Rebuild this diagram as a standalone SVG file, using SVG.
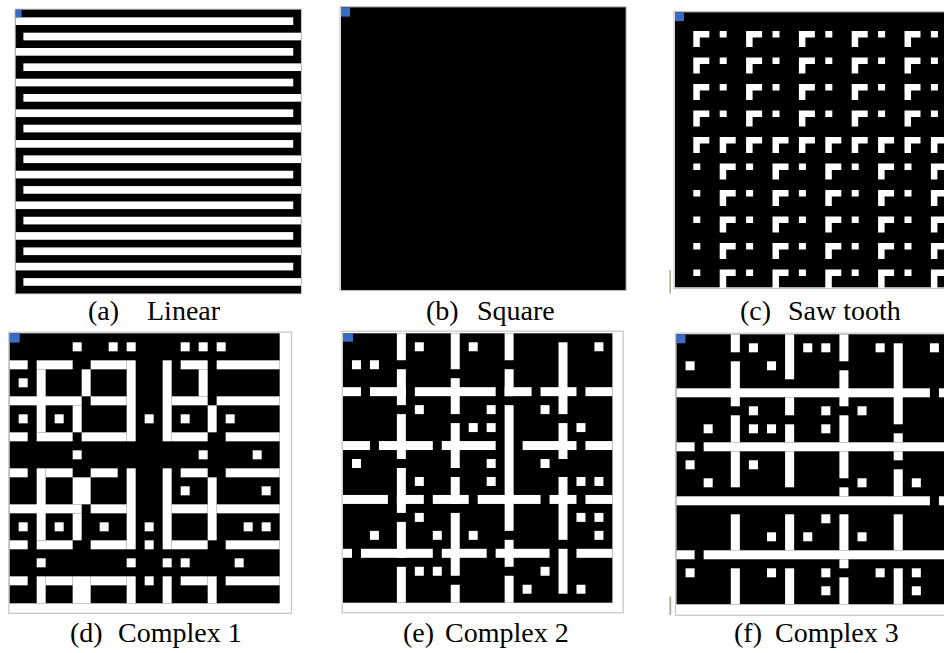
<svg xmlns="http://www.w3.org/2000/svg" width="944" height="653" viewBox="0 0 944 653">
<style>
.k{fill:#000}
.w{fill:#fff}
.bl{fill:#3a6bc5}
.fr{fill:none;stroke:#c4c4c4;stroke-width:1.2}
.ol{fill:#b0ad94}
.lbl{font-family:"Liberation Serif","Times New Roman",serif;font-size:28px;fill:#000}
</style>
<defs>
<path id="G" d="M0,0h16v6.5h-9.5v9.5h-6.5z" fill="#fff"/>
<path id="GL" d="M0,0h16v6.5h-9.5v12h-6.5z" fill="#fff"/>
<rect id="S" width="7" height="6.5" fill="#fff"/>
<g id="rowA"><use href="#G" x="693.3"/><use href="#S" x="719.7"/><use href="#G" x="746.1"/><use href="#S" x="772.5"/><use href="#G" x="798.9"/><use href="#S" x="825.3"/><use href="#G" x="851.7"/><use href="#S" x="878.1"/><use href="#G" x="904.5"/><use href="#S" x="930.9"/></g>
<g id="rowB"><use href="#G" x="693.3"/><use href="#G" x="719.7"/><use href="#G" x="746.1"/><use href="#G" x="772.5"/><use href="#G" x="798.9"/><use href="#G" x="825.3"/><use href="#G" x="851.7"/><use href="#G" x="878.1"/><use href="#G" x="904.5"/><use href="#G" x="930.9"/></g>
<g id="rowC"><use href="#S" x="693.3"/><use href="#G" x="719.7"/><use href="#S" x="746.1"/><use href="#G" x="772.5"/><use href="#S" x="798.9"/><use href="#G" x="825.3"/><use href="#S" x="851.7"/><use href="#G" x="878.1"/><use href="#S" x="904.5"/><use href="#G" x="930.9"/></g>
<g id="rowD"><use href="#S" x="693.3"/><use href="#GL" x="719.7"/><use href="#S" x="746.1"/><use href="#GL" x="772.5"/><use href="#S" x="798.9"/><use href="#GL" x="825.3"/><use href="#S" x="851.7"/><use href="#GL" x="878.1"/><use href="#S" x="904.5"/><use href="#GL" x="930.9"/></g>
</defs>
<rect width="944" height="653" fill="#fff"/>

<g id="panel-a">
<rect class="fr" x="15.2" y="9.2" width="286.3" height="284.6"/>
<g transform="translate(15.67,9.67) scale(7.71,7.67)">
<rect class="k" width="37" height="37"/>
<g class="w">
<rect x="0" y="1" width="36" height="1"/><rect x="1" y="3" width="36" height="1"/>
<rect x="0" y="5" width="36" height="1"/><rect x="1" y="7" width="36" height="1"/>
<rect x="0" y="9" width="36" height="1"/><rect x="1" y="11" width="36" height="1"/>
<rect x="0" y="13" width="36" height="1"/><rect x="1" y="15" width="36" height="1"/>
<rect x="0" y="17" width="36" height="1"/><rect x="1" y="19" width="36" height="1"/>
<rect x="0" y="21" width="36" height="1"/><rect x="1" y="23" width="36" height="1"/>
<rect x="0" y="25" width="36" height="1"/><rect x="1" y="27" width="36" height="1"/>
<rect x="0" y="29" width="36" height="1"/><rect x="1" y="31" width="36" height="1"/>
<rect x="0" y="33" width="36" height="1"/><rect x="1" y="35" width="36" height="1"/>
</g>
</g>
<rect class="bl" x="15.67" y="9.67" width="6" height="7.5"/>
<text class="lbl" y="320"><tspan x="88">(a)</tspan><tspan x="147">Linear</tspan></text>
</g>

<g id="panel-b">
<rect class="fr" x="340" y="6.6" width="286.2" height="284"/>
<rect class="k" x="341" y="7.3" width="284.7" height="282.7"/>
<rect class="bl" x="341" y="7.3" width="9" height="9.3"/>
<text class="lbl" y="320"><tspan x="426">(b)</tspan><tspan x="477">Square</tspan></text>
</g>

<g id="panel-c">
<rect class="fr" x="674" y="11.5" width="280" height="277"/>
<rect class="k" x="675" y="12.3" width="269" height="275"/>
<use href="#rowA" y="31"/><use href="#rowA" y="57.5"/><use href="#rowA" y="84"/><use href="#rowA" y="110.5"/>
<use href="#rowB" y="137"/>
<use href="#rowC" y="163.5"/><use href="#rowC" y="190"/><use href="#rowC" y="216.5"/><use href="#rowC" y="243"/>
<use href="#rowD" y="269.5"/>
<rect class="bl" x="675" y="12.3" width="9" height="8.7"/>
<rect class="ol" x="669.4" y="270" width="1.6" height="23.5"/>
<text class="lbl" y="320"><tspan x="740">(c)</tspan><tspan x="788">Saw tooth</tspan></text>
</g>

<g id="panel-d">
<rect class="fr" x="8.8" y="332.2" width="282.7" height="281.1"/>
<g transform="translate(9.67,333.33) scale(9)">
<rect class="k" width="30" height="30"/>
<g class="w">
<rect x="0" y="3" width="2" height="1"/><rect x="3" y="3" width="4" height="1"/><rect x="9" y="3" width="4" height="1"/><rect x="19" y="3" width="3" height="1"/><rect x="23" y="3" width="7" height="1"/>
<rect x="0" y="7" width="8" height="1"/><rect x="9" y="7" width="4" height="1"/><rect x="18" y="7" width="4" height="1"/><rect x="23" y="7" width="7" height="1"/>
<rect x="0" y="11" width="2" height="1"/><rect x="3" y="11" width="4" height="1"/><rect x="8" y="11" width="5" height="1"/><rect x="18" y="11" width="4" height="1"/><rect x="24" y="11" width="6" height="1"/>
<rect x="3" y="4" width="1" height="7"/><rect x="8" y="4" width="1" height="3"/><rect x="7" y="8" width="1" height="3"/><rect x="13" y="3" width="1" height="9"/><rect x="17" y="3" width="1" height="9"/><rect x="21" y="4" width="1" height="3"/><rect x="22" y="8" width="1" height="3"/>

<rect x="0" y="15" width="2" height="1"/><rect x="4" y="15" width="3" height="1"/><rect x="9" y="15" width="3" height="1"/><rect x="19" y="15" width="3" height="1"/><rect x="24" y="15" width="6" height="1"/>
<rect x="0" y="19" width="8" height="1"/><rect x="9" y="19" width="4" height="1"/><rect x="18" y="19" width="4" height="1"/><rect x="23" y="19" width="7" height="1"/>
<rect x="0" y="23" width="2" height="1"/><rect x="3" y="23" width="4" height="1"/><rect x="9" y="23" width="4" height="1"/><rect x="18" y="23" width="4" height="1"/><rect x="24" y="23" width="6" height="1"/>
<rect x="3" y="15" width="1" height="8"/><rect x="7" y="16" width="2" height="3"/><rect x="7" y="20" width="1" height="3"/><rect x="13" y="15" width="1" height="9"/><rect x="17" y="15" width="1" height="9"/><rect x="22" y="16" width="1" height="7"/>

<rect x="0" y="27" width="2" height="1"/><rect x="4" y="27" width="3" height="1"/><rect x="9" y="27" width="4" height="1"/><rect x="19" y="27" width="3" height="1"/><rect x="24" y="27" width="6" height="1"/>
<rect x="3" y="27" width="1" height="3"/><rect x="7" y="27" width="2" height="3"/><rect x="13" y="27" width="1" height="3"/><rect x="17" y="27" width="1" height="3"/><rect x="22" y="27" width="1" height="3"/>

<rect x="7" y="1" width="1" height="1"/><rect x="11" y="1" width="1" height="1"/><rect x="13" y="1" width="1" height="1"/><rect x="19" y="1" width="1" height="1"/><rect x="21" y="1" width="1" height="1"/><rect x="23" y="1" width="1" height="1"/>
<rect x="1" y="5" width="1" height="1"/>
<rect x="1" y="9" width="1" height="1"/><rect x="5" y="9" width="1" height="1"/><rect x="15" y="9" width="1" height="1"/><rect x="19" y="9" width="1" height="1"/><rect x="24" y="9" width="1" height="1"/>
<rect x="7" y="13" width="1" height="1"/><rect x="21" y="13" width="1" height="1"/><rect x="27" y="13" width="1" height="1"/>
<rect x="19" y="17" width="1" height="1"/><rect x="28" y="17" width="1" height="1"/>
<rect x="1" y="21" width="1" height="1"/><rect x="5" y="21" width="1" height="1"/><rect x="10" y="21" width="1" height="1"/><rect x="15" y="21" width="1" height="1"/><rect x="26" y="21" width="1" height="1"/><rect x="28" y="21" width="1" height="1"/>
<rect x="15" y="23" width="1" height="1"/>
<rect x="3" y="25" width="1" height="1"/><rect x="13" y="25" width="1" height="1"/><rect x="17" y="25" width="1" height="1"/><rect x="19" y="25" width="1" height="1"/><rect x="25" y="25" width="1" height="1"/>
<rect x="15" y="27" width="1" height="1"/>
</g>
</g>
<rect class="bl" x="9.67" y="333.33" width="10" height="9.3"/>
<text class="lbl" y="642"><tspan x="70">(d)</tspan><tspan x="118">Complex 1</tspan></text>
</g>

<g id="panel-e">
<rect class="fr" x="342.2" y="331.2" width="281" height="281.6"/>
<g transform="translate(343,333.3) scale(8.98)">
<rect class="k" width="30" height="30"/>
<g class="w">
<rect x="6" y="0" width="1" height="3"/><rect x="6" y="4" width="1" height="4"/><rect x="6" y="9" width="1" height="5"/><rect x="6" y="15" width="1" height="5"/><rect x="6" y="21" width="1" height="4"/><rect x="6" y="26" width="1" height="4"/>
<rect x="12" y="0" width="1" height="4"/><rect x="12" y="5" width="1" height="4"/><rect x="12" y="10" width="1" height="5"/><rect x="12" y="16" width="1" height="3"/><rect x="12" y="20" width="1" height="7"/><rect x="12" y="28" width="1" height="2"/>
<rect x="18" y="0" width="1" height="3"/><rect x="18" y="4" width="1" height="3"/><rect x="18" y="8" width="1" height="14"/><rect x="18" y="23" width="1" height="3"/><rect x="18" y="27" width="1" height="3"/>
<rect x="24" y="1" width="1" height="8"/><rect x="24" y="10" width="1" height="4"/><rect x="24" y="16" width="1" height="7"/><rect x="24" y="24" width="1" height="5"/>
<rect x="0" y="6" width="2" height="1"/><rect x="3" y="6" width="4" height="1"/><rect x="8" y="6" width="9" height="1"/><rect x="18" y="6" width="3" height="1"/><rect x="22" y="6" width="4" height="1"/><rect x="27" y="6" width="3" height="1"/>
<rect x="0" y="12" width="3" height="1"/><rect x="4" y="12" width="6" height="1"/><rect x="11" y="12" width="6" height="1"/><rect x="20" y="12" width="6" height="1"/><rect x="27" y="12" width="3" height="1"/>
<rect x="0" y="18" width="5" height="1"/><rect x="6" y="18" width="3" height="1"/><rect x="10" y="18" width="4" height="1"/><rect x="15" y="18" width="7" height="1"/><rect x="23" y="18" width="3" height="1"/><rect x="27" y="18" width="3" height="1"/>
<rect x="0" y="24" width="1" height="1"/><rect x="2" y="24" width="8" height="1"/><rect x="11" y="24" width="5" height="1"/><rect x="17" y="24" width="6" height="1"/><rect x="26" y="24" width="4" height="1"/>
<rect x="8" y="1" width="1" height="1"/><rect x="14" y="1" width="1" height="1"/><rect x="28" y="1" width="1" height="1"/>
<rect x="1" y="3" width="1" height="1"/><rect x="3" y="3" width="1" height="1"/>
<rect x="8" y="8" width="1" height="1"/><rect x="16" y="8" width="1" height="1"/><rect x="22" y="8" width="1" height="1"/>
<rect x="14" y="10" width="1" height="1"/><rect x="16" y="10" width="1" height="1"/><rect x="26" y="10" width="1" height="1"/>
<rect x="1" y="14" width="1" height="1"/><rect x="16" y="14" width="1" height="1"/><rect x="22" y="14" width="1" height="1"/>
<rect x="8" y="16" width="1" height="1"/><rect x="16" y="16" width="1" height="1"/><rect x="26" y="16" width="1" height="1"/><rect x="28" y="16" width="1" height="1"/>
<rect x="8" y="20" width="1" height="1"/><rect x="26" y="20" width="1" height="1"/><rect x="28" y="20" width="1" height="1"/>
<rect x="3" y="22" width="1" height="1"/><rect x="10" y="22" width="1" height="1"/><rect x="14" y="22" width="1" height="1"/><rect x="28" y="22" width="1" height="1"/>
<rect x="8" y="26" width="1" height="1"/><rect x="10" y="26" width="1" height="1"/><rect x="22" y="26" width="1" height="1"/>
<rect x="20" y="28" width="1" height="1"/><rect x="26" y="28" width="1" height="1"/>
</g>
</g>
<rect class="bl" x="343" y="333.3" width="10" height="8.4"/>
<text class="lbl" y="642"><tspan x="403">(e)</tspan><tspan x="445">Complex 2</tspan></text>
</g>

<g id="panel-f">
<rect class="fr" x="675.5" y="333.2" width="280" height="282"/>
<g transform="translate(676.5,334.3) scale(9.05,9)">
<rect class="k" width="30" height="30"/>
<g class="w">
<rect x="0" y="6" width="28" height="1"/><rect x="29" y="6" width="1" height="1"/>
<rect x="0" y="12" width="2" height="1"/><rect x="3" y="12" width="27" height="1"/>
<rect x="0" y="18" width="28" height="1"/><rect x="29" y="18" width="1" height="1"/>
<rect x="0" y="24" width="2" height="1"/><rect x="3" y="24" width="27" height="1"/>
<rect x="6" y="0" width="1" height="2"/><rect x="6" y="3" width="1" height="5"/><rect x="6" y="9" width="1" height="3"/><rect x="6" y="13" width="1" height="4"/><rect x="6" y="20" width="1" height="4"/><rect x="6" y="26" width="1" height="4"/>
<rect x="12" y="0" width="1" height="5"/><rect x="12" y="7" width="1" height="2"/><rect x="12" y="10" width="1" height="2"/><rect x="12" y="13" width="1" height="4"/><rect x="12" y="20" width="1" height="4"/><rect x="12" y="26" width="1" height="4"/>
<rect x="18" y="0" width="1" height="3"/><rect x="18" y="4" width="1" height="4"/><rect x="18" y="9" width="1" height="3"/><rect x="18" y="13" width="1" height="3"/><rect x="18" y="17" width="1" height="1"/><rect x="18" y="20" width="1" height="4"/><rect x="18" y="25" width="1" height="1"/><rect x="18" y="27" width="1" height="3"/>
<rect x="24" y="1" width="1" height="9"/><rect x="24" y="11" width="1" height="1"/><rect x="24" y="13" width="1" height="1"/><rect x="24" y="15" width="1" height="3"/><rect x="24" y="20" width="1" height="4"/><rect x="24" y="26" width="1" height="4"/>
<rect x="8" y="1" width="1" height="1"/><rect x="14" y="1" width="1" height="1"/><rect x="16" y="1" width="1" height="1"/><rect x="22" y="1" width="1" height="1"/><rect x="28" y="1" width="1" height="1"/>
<rect x="1" y="3" width="1" height="1"/><rect x="10" y="3" width="1" height="1"/>
<rect x="8" y="8" width="1" height="1"/><rect x="16" y="8" width="1" height="1"/><rect x="20" y="8" width="1" height="1"/>
<rect x="3" y="10" width="1" height="1"/><rect x="8" y="10" width="1" height="1"/><rect x="10" y="10" width="1" height="1"/><rect x="16" y="10" width="1" height="1"/>
<rect x="1" y="14" width="1" height="1"/><rect x="8" y="14" width="1" height="1"/>
<rect x="3" y="16" width="1" height="1"/><rect x="20" y="16" width="1" height="1"/><rect x="26" y="16" width="1" height="1"/>
<rect x="16" y="20" width="1" height="1"/>
<rect x="10" y="22" width="1" height="1"/><rect x="14" y="22" width="1" height="1"/><rect x="20" y="22" width="1" height="1"/>
<rect x="1" y="26" width="1" height="1"/><rect x="10" y="26" width="1" height="1"/><rect x="16" y="26" width="1" height="1"/><rect x="22" y="26" width="1" height="1"/><rect x="26" y="26" width="1" height="1"/>
<rect x="16" y="28" width="1" height="1"/><rect x="26" y="28" width="1" height="1"/>
</g>
</g>
<rect class="bl" x="676.5" y="334.3" width="9" height="9"/>
<rect class="ol" x="669.4" y="596.7" width="1.8" height="18.5"/>
<text class="lbl" y="642"><tspan x="734">(f)</tspan><tspan x="775">Complex 3</tspan></text>
</g>
</svg>
